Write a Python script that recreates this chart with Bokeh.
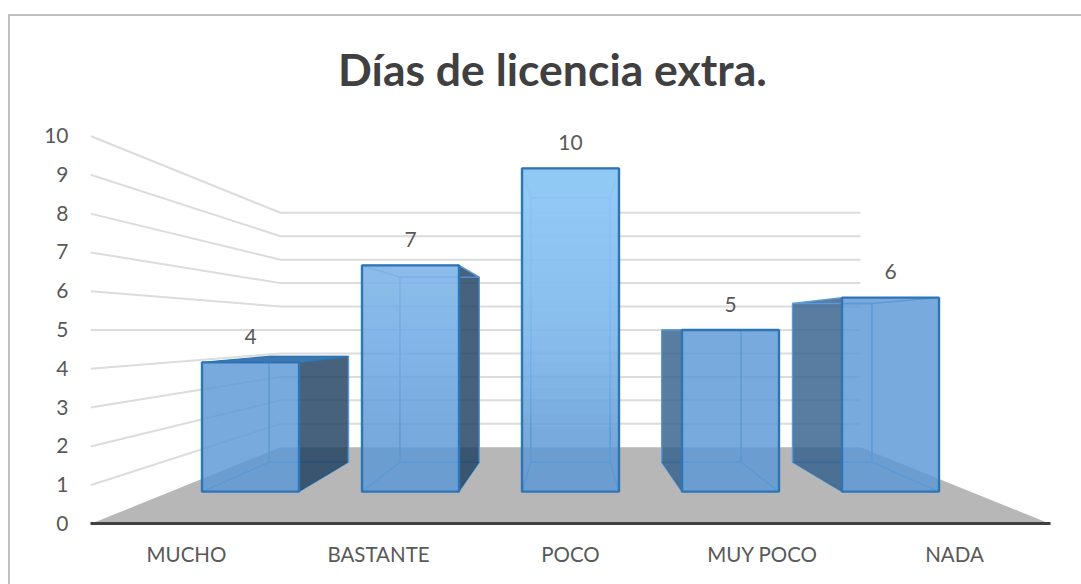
from bokeh.plotting import figure
from bokeh.models import FixedTicker, Label
from bokeh.core.properties import value
from bokeh.embed import file_html
from bokeh.resources import INLINE

# ---- data ----
categories = ["MUCHO", "BASTANTE", "POCO", "MUY POCO", "NADA"]
values = [4, 7, 10, 5, 6]
y_ticks = [0, 1, 2, 3, 4, 5, 6, 7, 8, 9, 10]
title_text = "Días de licencia extra."

# ---- perspective model (axis units: category index / value) ----
FONT = "Lato"
WALL_FRONT, BAR_FRONT, BAR_BACK, WALL_BACK = 1.2, 1.0, 0.818, 0.725
CX, HORIZON, HALF = 2.0, 4.987, 0.2526 * 1.2
PX_PER_VALUE = 38.8
FRAME_H = 493


def project(cat_x, v, s):
    """Category position, value, depth scale -> axis coordinates."""
    return (CX + (cat_x - CX) * s / WALL_FRONT,
            HORIZON + (v - 5.0) * s / WALL_FRONT)


def quad(cat_a, v_a, s_a, cat_b, v_b, s_b, cat_c, v_c, s_c, cat_d, v_d, s_d):
    pts = [project(cat_a, v_a, s_a), project(cat_b, v_b, s_b),
           project(cat_c, v_c, s_c), project(cat_d, v_d, s_d)]
    return [q[0] for q in pts], [q[1] for q in pts]


p = figure(width=1071, height=568, output_backend="svg", toolbar_location=None,
           x_range=(-0.5, 4.5), y_range=(0, FRAME_H / PX_PER_VALUE),
           min_border_left=80, min_border_right=31, min_border_top=14, min_border_bottom=61)
p.margin = (16, 0, 0, 10)
p.styles = {"box-shadow": "0 -2px 0 0 #bfbfbf, -2px 0 0 0 #bfbfbf, -2px -2px 0 0 #bfbfbf"}
p.frame_width = 960
p.frame_height = FRAME_H
p.outline_line_color = None
p.background_fill_color = "white"
p.border_fill_color = "white"
p.grid.visible = False

# chart title, inside the upper part of the plotting area
p.add_layout(Label(x=1.906, y=11.73, text=title_text, text_align="center", text_baseline="middle",
                   text_font=FONT, text_font_size="44.5px", text_font_style="bold",
                   text_color="#404040"))

# axes
p.yaxis.ticker = FixedTicker(ticks=y_ticks)
p.yaxis.axis_line_color = None
p.yaxis.major_tick_line_color = None
p.yaxis.minor_tick_line_color = None
p.yaxis.major_label_standoff = 16
p.yaxis.major_label_text_font = FONT
p.yaxis.major_label_text_font_size = "21px"
p.yaxis.major_label_text_color = "#595959"

p.xaxis.ticker = FixedTicker(ticks=list(range(len(categories))))
p.xaxis.major_label_overrides = {i: c for i, c in enumerate(categories)}
p.xaxis.axis_line_color = "#404040"
p.xaxis.axis_line_width = 3
p.xaxis.major_tick_line_color = None
p.xaxis.minor_tick_line_color = None
p.xaxis.major_label_standoff = 12
p.xaxis.major_label_text_font = FONT
p.xaxis.major_label_text_font_size = "20.5px"
p.xaxis.major_label_text_color = "#595959"

# floor
xs, ys = quad(-0.5, 0, WALL_FRONT, 4.5, 0, WALL_FRONT, 4.5, 0, WALL_BACK, -0.5, 0, WALL_BACK)
p.patch(xs, ys, fill_color="#b7b7b7", line_color=None)

# gridlines on side and back walls
for t in y_ticks[1:]:
    a = project(-0.5, t, WALL_FRONT)
    b = project(-0.5, t, WALL_BACK)
    c = project(4.5, t, WALL_BACK)
    p.line([a[0], b[0], c[0]], [a[1], b[1], c[1]], line_color="#dcdcdc", line_width=2)

EDGE = "#2e75b6"
INNER = "#5b9bd5"
BASE = "#5a97d5"
LIGHT = "#a0d4ff"
# strength of the top highlight per bar
GLOW = [0.0, 0.6, 0.85, 0.0, 0.0]
LAYERS = 20

for i, v in enumerate(values):
    l, r = i - HALF, i + HALF
    # bottom face and back rectangle outline
    xs, ys = quad(l, 0, BAR_FRONT, r, 0, BAR_FRONT, r, 0, BAR_BACK, l, 0, BAR_BACK)
    p.patch(xs, ys, fill_alpha=0, line_color=INNER, line_width=1.4)
    xs, ys = quad(l, 0, BAR_BACK, r, 0, BAR_BACK, r, v, BAR_BACK, l, v, BAR_BACK)
    p.patch(xs, ys, fill_alpha=0, line_color=INNER, line_width=1.4)
    # visible outer side face
    if i < 2:
        xs, ys = quad(r, 0, BAR_FRONT, r, v, BAR_FRONT, r, v, BAR_BACK, r, 0, BAR_BACK)
        p.patch(xs, ys, fill_color="#1f3f60", fill_alpha=0.82, line_color=None)
        p.line(xs[2:], ys[2:], line_color=INNER, line_width=1.4)
    elif i > 2:
        xs, ys = quad(l, 0, BAR_FRONT, l, v, BAR_FRONT, l, v, BAR_BACK, l, 0, BAR_BACK)
        p.patch(xs, ys, fill_color="#345f8c", fill_alpha=0.82, line_color=None)
        p.line(xs[2:], ys[2:], line_color=INNER, line_width=1.4)
    # top face: solid when seen from above, outline only when seen from below
    xs, ys = quad(l, v, BAR_FRONT, r, v, BAR_FRONT, r, v, BAR_BACK, l, v, BAR_BACK)
    seen_from_above = v < 5
    p.patch(xs, ys, fill_color="#3f78ae", fill_alpha=1.0 if seen_from_above else 0.0,
            line_color=EDGE if seen_from_above else INNER, line_width=1.4)
    # front face
    xf0, yf0 = project(l, 0, BAR_FRONT)
    xf1, yf1 = project(r, v, BAR_FRONT)
    p.quad(left=[xf0], right=[xf1], top=[yf1], bottom=[yf0],
           fill_color=BASE, fill_alpha=0.82, line_color=None)
    # nested highlight layers build a smooth upward gradient
    if GLOW[i] > 0:
        a = 1 - (1 - GLOW[i]) ** (1 / LAYERS)
        glow_start = project(l, 2, BAR_FRONT)[1]
        bottoms = [glow_start + (yf1 - glow_start) * k / LAYERS for k in range(LAYERS)]
        p.quad(left=[xf0] * LAYERS, right=[xf1] * LAYERS, top=[yf1] * LAYERS, bottom=bottoms,
               fill_color=LIGHT, fill_alpha=a, line_color=None)
    p.patch([xf0, xf1, xf1, xf0], [yf0, yf0, yf1, yf1], fill_alpha=0,
            line_color=EDGE, line_width=2.4)
    # value label
    cx, _ = project(i, v, BAR_FRONT)
    p.text([cx], [yf1], text=[str(v)], text_align="center", text_baseline="middle",
           y_offset=-26, text_font=value(FONT), text_font_size="21px", text_color="#595959")

open("out.html", "w").write(file_html(p, INLINE))
